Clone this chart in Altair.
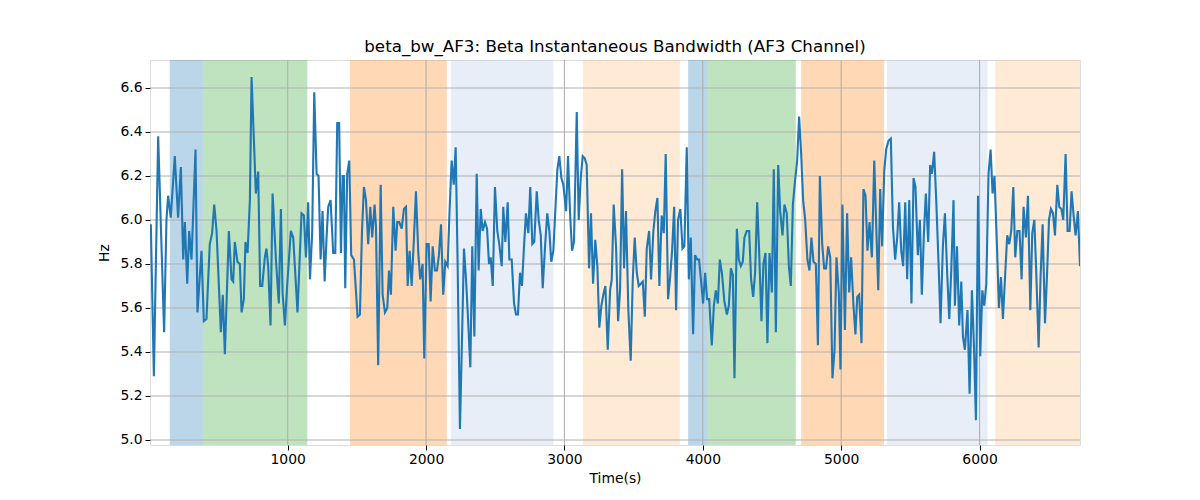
import altair as alt
import pandas as pd

# ---- data ----
times = [11, 33, 64, 107, 124, 136, 155, 184, 208, 228, 245, 257, 274, 288, 305, 334, 348, 377, 394, 413,
         437, 454, 469, 486, 517, 531, 546, 575, 594, 606, 618, 637, 654, 667, 683, 695, 710, 727, 739, 770,
         787, 801, 816, 835,
         847, 859, 876, 891, 915, 936, 951, 963, 980, 996, 1023, 1040, 1071, 1100, 1117, 1132, 1148, 1161, 1177, 1192,
         1209, 1223, 1238, 1252, 1267, 1281, 1293, 1310, 1329, 1344, 1358, 1372, 1385, 1397, 1406, 1416, 1430, 1445,
         1459, 1479, 1505, 1522, 1537, 1551, 1566, 1582, 1597, 1611, 1628, 1638, 1654,
         1672, 1686, 1703, 1720, 1732, 1746, 1763, 1780, 1792, 1806, 1824, 1840, 1855, 1867, 1881, 1896, 1912, 1927,
         1944, 1958, 1975, 1987, 2004, 2019, 2033, 2048, 2064, 2079, 2093, 2108, 2124, 2139, 2156, 2171, 2185, 2200,
         2214, 2228, 2245, 2262, 2274, 2289, 2305, 2320, 2334, 2349, 2366, 2380, 2395, 2409, 2426, 2441, 2455, 2467,
         2482, 2498,
         2515, 2529, 2547, 2558, 2573, 2590, 2602, 2619, 2636, 2650, 2664, 2679, 2693, 2708, 2722, 2739, 2753, 2768,
         2782, 2800, 2814, 2829, 2843, 2860, 2876, 2891, 2905, 2920, 2934, 2949, 2963, 2978, 2992, 3012, 3026, 3040,
         3055, 3069, 3089, 3103, 3118, 3132, 3147, 3161, 3178, 3192, 3207, 3223, 3238, 3252, 3267, 3281, 3296, 3313,
         3330,
         3342, 3356, 3373, 3388, 3402, 3417, 3431, 3445, 3462, 3479, 3494, 3508, 3523, 3537, 3552, 3566, 3581, 3595,
         3612, 3626, 3643, 3657, 3672, 3686, 3703, 3718, 3732, 3749, 3764, 3778, 3793, 3807, 3821, 3838, 3853, 3867,
         3884, 3899, 3913, 3930, 3944, 3959, 3973, 3988, 4002, 4017, 4031, 4046, 4065, 4080, 4094, 4109, 4123, 4138,
         4156,
         4174, 4188, 4203, 4217, 4229, 4246, 4260, 4275, 4289, 4301, 4318, 4335, 4349, 4364, 4378, 4393, 4407, 4424,
         4438, 4453, 4467, 4482, 4499, 4513, 4528, 4545, 4559, 4576, 4590, 4607, 4622, 4636, 4651, 4667, 4682, 4696,
         4711, 4725, 4740, 4756, 4771, 4785, 4800, 4817, 4832, 4846, 4863, 4877, 4891, 4906, 4921, 4937, 4952, 4966,
         4983,
         4995, 5009, 5027, 5043, 5058, 5072, 5089, 5103, 5116, 5130, 5147, 5161, 5176, 5190, 5205, 5222, 5239, 5253,
         5268, 5282, 5296, 5311, 5325, 5342, 5359, 5374, 5390, 5405, 5419, 5434, 5448, 5463, 5477, 5492, 5508, 5523,
         5537, 5554, 5569, 5583, 5598, 5612, 5629, 5643, 5656, 5672, 5687, 5704, 5718, 5735, 5750, 5766, 5781, 5795,
         5812, 5822,
         5837, 5853, 5868, 5880, 5894, 5913, 5928, 5945, 5960, 5974, 5989, 6005, 6020, 6034, 6049, 6065, 6080, 6094,
         6108, 6126, 6140, 6155, 6169, 6186, 6200, 6215, 6229, 6244, 6258, 6273, 6289, 6304, 6318, 6335, 6350, 6367,
         6381, 6396, 6410, 6427, 6441, 6456, 6473, 6487, 6502, 6516, 6531, 6545, 6562, 6576, 6591, 6605, 6622, 6636,
         6651, 6665, 6680, 6694, 6711, 6726]

values = [5.98, 5.29, 6.38, 5.49, 6.00, 6.11, 6.01, 6.29, 6.01, 6.24, 5.82, 5.99, 5.71, 5.95, 5.82, 6.32, 5.58, 5.86, 5.54, 5.55,
          5.89, 5.94, 6.07, 5.95, 5.49, 5.66, 5.39, 5.95, 5.73, 5.72, 5.90, 5.81, 5.80, 5.58, 5.64, 5.90, 5.85, 6.09, 6.65, 6.12,
          6.22, 5.70, 5.70, 5.83,
          5.87, 5.79, 5.52, 6.12, 5.82, 5.62, 6.05, 5.67, 5.52, 5.70, 5.95, 5.92, 5.58, 6.03, 6.02, 5.83, 6.08, 5.73, 5.94, 6.58,
          6.21, 6.20, 5.82, 6.04, 5.72, 5.92, 6.06, 6.09, 5.85, 5.85, 6.44, 6.44, 5.85, 6.20, 6.20, 5.69, 6.21, 6.27,
          5.84, 5.82, 5.56, 5.57, 5.95, 6.15, 6.09, 5.89, 6.06, 5.92, 6.07, 5.97, 5.34,
          6.16, 5.66, 5.58, 5.60, 5.77, 5.66, 6.06, 5.86, 5.99, 5.99, 5.96, 6.05, 6.06, 5.70, 5.86, 5.70, 5.91, 6.13,
          5.85, 5.73, 5.80, 5.37, 5.89, 5.89, 5.63, 5.88, 5.77, 5.77, 5.84, 5.98, 5.66, 5.81, 5.79, 6.06, 6.27, 6.16,
          6.33, 5.81, 5.05, 5.52, 5.87, 5.73, 5.53, 5.33, 5.88, 5.47, 6.21, 5.77, 6.05, 5.95, 5.99, 5.96, 5.80, 5.83,
          5.70, 6.15,
          5.95, 5.89, 5.79, 6.06, 5.90, 6.08, 5.82, 5.82, 5.62, 5.57, 5.57, 5.76, 5.70, 5.88, 6.03, 5.94, 6.15, 5.89,
          5.90, 6.13, 6.00, 5.93, 5.69, 5.88, 6.03, 5.95, 5.81, 5.86, 6.04, 6.23, 6.29, 6.19, 6.16, 6.04, 6.29, 6.04,
          5.86, 5.90, 6.49, 6.00, 6.19, 6.29, 6.28, 6.25, 5.78, 6.03, 5.71, 5.91, 5.79, 5.51, 5.61, 5.66, 5.70, 5.41,
          5.68,
          5.73, 6.07, 5.88, 5.54, 5.68, 6.23, 5.78, 6.04, 5.59, 5.36, 5.73, 5.92, 5.76, 5.70, 5.71, 5.72, 5.56, 5.87,
          5.95, 5.73, 5.95, 6.04, 6.10, 5.70, 6.02, 5.94, 6.30, 5.64, 5.74, 5.86, 6.06, 5.59, 6.00, 6.05, 5.87, 5.88,
          6.33, 5.73, 5.92, 5.48, 5.84, 5.82, 5.82, 5.72, 5.62, 5.76, 5.64, 5.64, 5.43, 5.61, 5.68, 5.62, 5.82, 5.76,
          5.63,
          5.57, 5.61, 5.78, 5.75, 5.28, 5.96, 5.82, 5.79, 5.81, 5.92, 5.95, 5.95, 5.73, 5.65, 5.76, 6.08, 5.86, 5.54,
          5.80, 5.85, 5.44, 5.85, 5.67, 6.23, 5.49, 6.25, 6.04, 5.93, 6.07, 6.03, 5.79, 5.70, 6.07, 6.18, 6.27, 6.47,
          6.30, 6.09, 6.00, 5.82, 5.77, 5.92, 5.81, 5.80, 5.43, 6.20, 5.89, 5.78, 5.78, 5.88, 5.83, 5.28, 5.41, 5.83,
          5.67,
          5.32, 6.07, 5.50, 6.03, 5.67, 5.83, 5.61, 5.48, 5.65, 5.66, 5.44, 6.14, 6.11, 5.86, 5.99, 5.83, 6.27, 5.98,
          5.68, 6.14, 5.88, 6.22, 6.32, 6.36, 6.37, 5.97, 5.82, 5.92, 6.08, 5.86, 5.79, 6.08, 5.73, 6.09, 5.62, 6.19,
          6.15, 5.84, 6.00, 5.66, 5.94, 6.12, 5.90, 6.25, 6.21, 6.31, 6.09, 5.80, 5.53, 5.88, 6.03, 5.76, 5.55, 5.76,
          6.09, 5.61,
          5.88, 5.52, 5.72, 5.47, 5.41, 5.59, 5.21, 5.68, 5.42, 5.09, 6.11, 5.38, 5.68, 5.61, 5.71, 6.21, 6.32, 6.12,
          6.20, 5.88, 5.60, 5.74, 5.55, 5.76, 5.93, 5.89, 5.95, 6.15, 5.83, 5.95, 5.95, 5.73, 6.06, 5.92, 6.11, 5.59,
          5.94, 6.00, 5.76, 5.42, 5.74, 5.98, 5.53, 5.74, 6.00, 6.05, 6.03, 5.93, 6.16, 6.06, 6.05, 6.00, 6.30, 5.95,
          5.95, 6.13, 6.02, 5.93, 6.04, 5.79]

span_start = [148, 387, 1450, 2180, 3134, 3894, 4036, 4711, 5330, 6113]
span_end = [387, 1142, 2150, 2920, 3834, 4036, 4672, 5310, 6058, 6740]
span_color = ["#1f77b4", "#2ca02c", "#ff7f0e", "#aec7e8", "#ffbb78",
              "#1f77b4", "#2ca02c", "#ff7f0e", "#aec7e8", "#ffbb78"]

x_ticks = [1000, 2000, 3000, 4000, 5000, 6000]
y_ticks = [5.0, 5.2, 5.4, 5.6, 5.8, 6.0, 6.2, 6.4, 6.6]

X_DOMAIN = [5, 6726]
Y_DOMAIN = [4.977, 6.727]

line_df = pd.DataFrame({"t": times, "v": values})
span_df = pd.DataFrame({"s": span_start, "e": span_end, "c": span_color})
xg_df = pd.DataFrame({"t": x_ticks})
yg_df = pd.DataFrame({"v": y_ticks})

FONT = "DejaVu Sans"
xscale = alt.Scale(domain=X_DOMAIN, nice=False, zero=False)
yscale = alt.Scale(domain=Y_DOMAIN, nice=False, zero=False)

xaxis = alt.Axis(values=x_ticks, format="d", grid=False, domain=False, tickColor="black",
                 tickSize=5, labelPadding=2, labelColor="black", labelFontSize=13.9, labelFont=FONT,
                 title="Time(s)", titleFont=FONT, titleFontSize=13.9, titleFontWeight="normal",
                 titleColor="black", titlePadding=6)
yaxis = alt.Axis(values=y_ticks, format=".1f", grid=False, domain=False, tickColor="black",
                 tickSize=5, labelPadding=3, labelColor="black", labelFontSize=13.9, labelFont=FONT,
                 title="Hz", titleFont=FONT, titleFontSize=13.9, titleFontWeight="normal",
                 titleColor="black", titlePadding=8)

spans = alt.Chart(span_df).mark_rect(opacity=0.3, clip=True).encode(
    x=alt.X("s:Q", scale=xscale, axis=xaxis),
    x2="e:Q",
    color=alt.Color("c:N", scale=None, legend=None),
)

xgrid = alt.Chart(xg_df).mark_rule(color="#b0b0b0", strokeWidth=1.1).encode(
    x=alt.X("t:Q", scale=xscale)
)
ygrid = alt.Chart(yg_df).mark_rule(color="#b0b0b0", strokeWidth=1.1).encode(
    y=alt.Y("v:Q", scale=yscale, axis=yaxis)
)

line = alt.Chart(line_df).mark_line(color="#1f77b4", strokeWidth=2.1, clip=True).encode(
    x=alt.X("t:Q", scale=xscale),
    y=alt.Y("v:Q", scale=yscale),
)

chart = alt.layer(spans, xgrid, ygrid, line).properties(
    width=930,
    height=385,
    autosize=alt.AutoSizeParams(type="none"),
    padding={"left": 142, "top": 52, "right": 112, "bottom": 47},
    title=alt.TitleParams("beta_bw_AF3: Beta Instantaneous Bandwidth (AF3 Channel)",
                          font=FONT, fontSize=16.7, fontWeight="normal", color="black",
                          anchor="middle", baseline="bottom", offset=5, dy=18),
).configure_view(stroke="black", strokeWidth=1.1).configure(background="white")

chart.save("out.html", embed_options={"renderer": "svg", "actions": False})
